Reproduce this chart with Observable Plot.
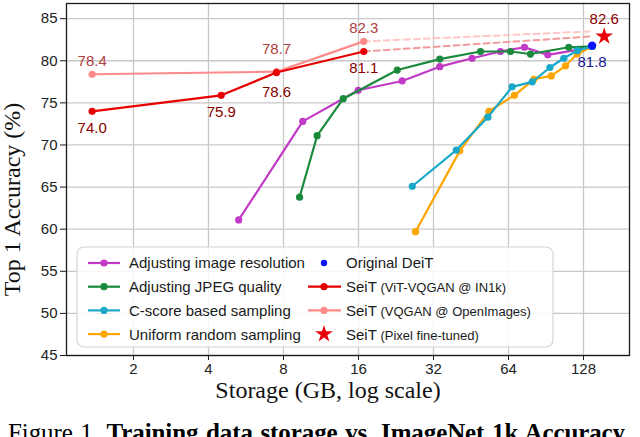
<!DOCTYPE html>
<html><head><meta charset="utf-8">
<script src="https://cdn.jsdelivr.net/npm/d3@7"></script>
<script src="https://cdn.jsdelivr.net/npm/@observablehq/plot@0.6"></script>
<style>
body{margin:0;background:#fff;width:640px;height:437px;overflow:hidden}
#cap{font-family:"Liberation Serif";font-size:25px;white-space:nowrap;padding-left:8px;line-height:1;margin-top:5px;color:#000;word-spacing:1.5px;letter-spacing:-0.1px}
</style></head><body><div id="chart"></div><div id="cap">Figure 1. <b>Training data storage vs. ImageNet 1k Accuracy.</b></div>
<script>
// ---- data (storage in GB, top-1 accuracy in %) ----
const xTicks = [2, 4, 8, 16, 32, 64, 128];
const yTicks = [45, 50, 55, 60, 65, 70, 75, 80, 85];

const resStorage = [5.29, 9.56, 15.96, 23.96, 33.9, 45.7, 59.4, 74.2, 92.0, 120.8, 138.6];
const resAcc     = [61.1, 72.8, 76.5, 77.6, 79.3, 80.3, 81.1, 81.6, 80.7, 81.3, 81.7];

const jpegStorage = [9.28, 10.92, 13.9, 22.9, 33.9, 49.4, 65.2, 78.4, 111.7, 138.6];
const jpegAcc     = [63.8, 71.1, 75.5, 78.9, 80.2, 81.1, 81.1, 80.8, 81.6, 81.7];

const cscoreStorage = [26.3, 39.5, 52.9, 66.2, 79.7, 93.8, 106.7, 120.8, 138.6];
const cscoreAcc     = [65.1, 69.4, 73.3, 76.9, 77.5, 79.2, 80.3, 81.2, 81.7];

const uniformStorage = [27.1, 40.8, 53.4, 67.6, 80.9, 95.0, 108.4, 120.8, 138.6];
const uniformAcc     = [59.7, 69.3, 74.0, 75.9, 77.8, 78.2, 79.4, 80.8, 81.7];

const seitIn1kStorage = [1.365, 4.5, 7.5, 16.8];
const seitIn1kAcc     = [74.0, 75.9, 78.6, 81.1];

const seitOIStorage = [1.365, 7.5, 16.8];
const seitOIAcc     = [78.4, 78.7, 82.3];

const deitStorage = [138.6];
const deitAcc     = [81.8];

const pixelStorage = [155];
const pixelAcc     = [82.9];
const pixelLabel   = ["82.6"];

const projIn1kStorage = [16.8, 140];
const projIn1kAcc     = [81.1, 82.9];
const projOIStorage = [16.8, 140];
const projOIAcc     = [82.3, 83.5];

const seriesNames = ["Adjusting image resolution", "Adjusting JPEG quality", "C-score based sampling", "Uniform random sampling"];
const legendMain = ["Original DeiT", "SeiT", "SeiT", "SeiT"];
const legendSub  = ["", "(ViT-VQGAN @ IN1k)", "(VQGAN @ OpenImages)", "(Pixel fine-tuned)"];

// ---- styles ----
const C = {
  res: "#c03ac6", jpeg: "#1b8a3c", cscore: "#1aa8c8", uniform: "#ffa500",
  in1k: "#e60000", oi: "#ff8a8a", deit: "#0a14ff", pixel: "#e8000b",
  projIn1k: "#f29a9a", projOI: "#ffc6c6",
  lblRed: "#8b0000", lblPink: "#b0403f", lblBlue: "#1a1a8e"
};

const pts = (xs, ys) => xs.map((x, i) => ({x, y: ys[i], i}));
const res = pts(resStorage, resAcc), jpeg = pts(jpegStorage, jpegAcc);
const cs = pts(cscoreStorage, cscoreAcc), uni = pts(uniformStorage, uniformAcc);
const in1k = pts(seitIn1kStorage, seitIn1kAcc), oi = pts(seitOIStorage, seitOIAcc);
const deit = pts(deitStorage, deitAcc), pix = pts(pixelStorage, pixelAcc);
const pIn1k = pts(projIn1kStorage, projIn1kAcc), pOI = pts(projOIStorage, projOIAcc);

const series = (d, color) => [
  Plot.line(d, {x: "x", y: "y", stroke: color, strokeWidth: 2.2}),
  Plot.dot(d, {x: "x", y: "y", fill: color, r: 3.6})
];
const fmt = d => d.y.toFixed(1);

const plot = Plot.plot({
  width: 640, height: 415,
  marginLeft: 66, marginRight: 11, marginTop: 3, marginBottom: 60,
  style: {fontFamily: "Liberation Sans, Arial, sans-serif", fontSize: "15px", color: "#222", background: "#fff"},
  x: {type: "log", base: 2, domain: [1.077, 195.8]},
  y: {domain: [45, 86.8]},
  marks: [
    Plot.gridX(xTicks, {stroke: "#c8c8c8", strokeOpacity: 1, strokeWidth: 1.3}),
    Plot.gridY(yTicks, {stroke: "#c8c8c8", strokeOpacity: 1, strokeWidth: 1.3}),
    Plot.line(pOI, {x: "x", y: "y", stroke: C.projOI, strokeWidth: 2, strokeDasharray: "6,4"}),
    Plot.line(pIn1k, {x: "x", y: "y", stroke: C.projIn1k, strokeWidth: 2, strokeDasharray: "6,4"}),
    ...series(res, C.res),
    ...series(jpeg, C.jpeg),
    ...series(uni, C.uniform),
    ...series(cs, C.cscore),
    ...series(oi, C.oi),
    ...series(in1k, C.in1k),
    Plot.dot(deit, {x: "x", y: "y", fill: C.deit, r: 4.2}),
    Plot.dot(pix, {x: "x", y: "y", fill: C.pixel, symbol: "star", r: 5.5}),
    // value labels
    Plot.text(oi.filter(d => d.i !== 1), {x: "x", y: "y", text: fmt, fill: C.lblPink, dy: -13}),
    Plot.text(oi.filter(d => d.i === 1), {x: "x", y: "y", text: fmt, fill: C.lblPink, dy: -23}),
    Plot.text(in1k.filter(d => d.i !== 2), {x: "x", y: "y", text: fmt, fill: C.lblRed, dy: 17}),
    Plot.text(in1k.filter(d => d.i === 2), {x: "x", y: "y", text: fmt, fill: C.lblRed, dy: 20}),
    Plot.text(pix, {x: "x", y: "y", text: (d, i) => pixelLabel[i], fill: C.lblRed, dy: -17}),
    Plot.text(deit, {x: "x", y: "y", text: fmt, fill: C.lblBlue, dy: 17}),
    Plot.frame({stroke: "#1a1a1a", strokeWidth: 1.3}),
    Plot.axisX(xTicks, {tickSize: 5, tickPadding: 3, tickFormat: d => String(d), label: null, stroke: "#1a1a1a"}),
    Plot.axisY(yTicks, {tickSize: 6, tickPadding: 3, label: null, stroke: "#1a1a1a"}),
    Plot.text([0], {frameAnchor: "bottom", dy: 42, dx: -20, textAnchor: "middle", text: () => "Storage (GB, log scale)", fontFamily: "Liberation Serif", fontSize: 24, fill: "#111"}),
    Plot.text([0], {frameAnchor: "left", dx: -54, dy: 20, rotate: -90, textAnchor: "middle", text: () => "Top 1 Accuracy (%)", fontFamily: "Liberation Serif", fontSize: 24, fill: "#111"})
  ]
});
document.getElementById("chart").appendChild(plot);

// ---- legend ----
const svg = d3.select(plot);
const lg = svg.append("g").attr("font-family", "Liberation Sans, Arial, sans-serif").attr("fill", "#1a1a1a").attr("text-anchor", "start");
lg.append("rect").attr("x", 77).attr("y", 247).attr("width", 476).attr("height", 100)
  .attr("rx", 7).attr("fill", "#fff").attr("fill-opacity", 0.85).attr("stroke", "#d4d4d4").attr("stroke-width", 1.2);
const rowY = i => 263 + i * 23.7;
const col1Colors = [C.res, C.jpeg, C.cscore, C.uniform];
seriesNames.forEach((name, i) => {
  const y = rowY(i);
  lg.append("line").attr("x1", 88).attr("x2", 120).attr("y1", y).attr("y2", y).attr("stroke", col1Colors[i]).attr("stroke-width", 2.2);
  lg.append("circle").attr("cx", 104).attr("cy", y).attr("r", 3.6).attr("fill", col1Colors[i]);
  lg.append("text").attr("x", 129).attr("y", y).attr("dy", "0.36em").attr("font-size", 15).attr("text-anchor", "start").text(name);
});
const col2Colors = [C.deit, C.in1k, C.oi, C.pixel];
legendMain.forEach((name, i) => {
  const y = rowY(i);
  if (i === 1 || i === 2) {
    lg.append("line").attr("x1", 308).attr("x2", 341).attr("y1", y).attr("y2", y).attr("stroke", col2Colors[i]).attr("stroke-width", 2.2);
    lg.append("circle").attr("cx", 324).attr("cy", y).attr("r", 3.6).attr("fill", col2Colors[i]);
  } else if (i === 0) {
    lg.append("circle").attr("cx", 324).attr("cy", y).attr("r", 3.2).attr("fill", col2Colors[i]);
  } else {
    lg.append("path").attr("transform", `translate(324,${y})`).attr("d", d3.symbol(d3.symbolStar, 5.5 * 5.5 * Math.PI)()).attr("fill", col2Colors[i]);
  }
  const t = lg.append("text").attr("x", 346).attr("y", y).attr("dy", "0.36em").attr("font-size", 15).attr("text-anchor", "start");
  t.append("tspan").text(name);
  if (legendSub[i]) t.append("tspan").attr("font-size", 13).text(" " + legendSub[i]);
});
</script>
</body></html>
